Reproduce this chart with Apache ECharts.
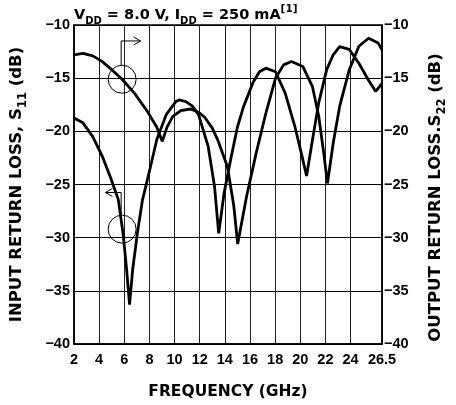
<!DOCTYPE html>
<html>
<head>
<meta charset="utf-8">
<script src="https://cdn.jsdelivr.net/npm/echarts@6/dist/echarts.min.js"></script>
<style>html,body{margin:0;padding:0;background:#fff}#c{width:456px;height:405px}</style>
</head>
<body>
<div id="c"></div>
<script>
// Frequency (GHz) / return loss (dB)
const s11Freq = [2, 2.71, 3.48, 4.25, 4.89, 5.52, 5.9, 6.16, 6.42, 6.67, 7.05, 7.44, 8.07, 8.58, 9.35, 10.1, 10.37, 10.9, 11.4, 11.9, 12.67, 13.18, 13.51, 13.94, 14.46, 15.0, 15.48, 16.24, 16.75, 17.26, 18.03, 18.8, 19.56, 20.07, 20.5, 20.97, 21.47, 22.1, 22.62, 23.13, 23.9, 24.66, 25.43, 26.0, 26.5];
const s11Loss = [-18.75, -19.2, -20.47, -22.35, -24.3, -26.4, -29.6, -32.66, -36.3, -32.97, -29.5, -26.5, -23.4, -20.8, -18.4, -17.2, -17.05, -17.2, -17.6, -18.4, -21.4, -25.2, -29.6, -25.8, -22.66, -19.6, -17.7, -15.4, -14.4, -14.06, -14.4, -16.4, -19.5, -22.0, -24.2, -20.8, -17.3, -14.2, -12.8, -12.03, -12.3, -13.6, -15.2, -16.25, -15.5];
const s22Freq = [2, 2.71, 3.5, 4.25, 5.0, 5.83, 6.8, 7.82, 8.58, 9.02, 9.4, 9.86, 10.5, 11.27, 11.9, 12.41, 13.0, 13.43, 14.2, 14.71, 15.02, 15.73, 16.5, 17.26, 18.03, 18.67, 19.3, 20.2, 20.97, 21.47, 21.86, 22.16, 22.62, 23.13, 23.9, 24.66, 25.43, 26.2, 26.5];
const s22Loss = [-12.8, -12.66, -12.9, -13.44, -14.2, -15.1, -16.4, -18.1, -19.6, -20.94, -19.6, -18.6, -18.05, -17.9, -18.2, -18.7, -19.7, -20.8, -23.3, -27.0, -30.6, -26.1, -22.0, -18.3, -15.0, -13.75, -13.44, -13.9, -15.8, -18.6, -22.0, -24.9, -21.1, -17.66, -14.2, -12.0, -11.25, -11.7, -12.34];
const xTicks = [2, 4, 6, 8, 10, 12, 14, 16, 18, 20, 22, 24, 26.5];
const yTicks = [-40, -35, -30, -25, -20, -15, -10];
// annotation anchors (data units): circle centre, arrow corner, arrow tip x
const noteS22 = {cx: 5.83, cy: -15.1, corner: -11.5, tipX: 7.3};
const noteS11 = {cx: 5.83, cy: -29.2, corner: -25.75, tipX: 4.5};

const pair = (xs, ys) => xs.map((x, i) => [x, ys[i]]);
const minus = v => String(v).replace('-', '\u2212');
const tickFont = {fontFamily: 'Liberation Sans, Arial, sans-serif', fontWeight: 'bold', fontSize: 14.5, color: '#000'};
const nameFont = {fontFamily: 'DejaVu Sans, sans-serif', fontWeight: 'bold', fontSize: 15.5, color: '#000'};
const yNameRich = {
  s: {fontFamily: 'DejaVu Sans, sans-serif', fontWeight: 'bold', fontSize: 11.5, color: '#000', verticalAlign: 'bottom', lineHeight: 12},
  m: {fontFamily: 'DejaVu Sans, sans-serif', fontWeight: 'bold', fontSize: 16.5, color: '#000', lineHeight: 24}
};

const chart = echarts.init(document.getElementById('c'), null, {renderer: 'canvas'});
const yAxisBase = {
  type: 'value', min: yTicks[0], max: yTicks[yTicks.length - 1], interval: 5,
  axisTick: {show: false},
  axisLine: {show: true, lineStyle: {color: '#000', width: 1.5}},
  nameLocation: 'middle', nameRotate: 90
};
chart.setOption({
  animation: false,
  backgroundColor: '#fff',
  title: {
    text: '{m|V}{s|DD}{m| = 8.0 V, I}{s|DD}{m| = 250 mA}{p|[1]}',
    left: 69, top: -1,
    textStyle: {
      rich: {
        m: {fontFamily: 'DejaVu Sans, sans-serif', fontWeight: 'bold', fontSize: 14.5, color: '#000', lineHeight: 22},
        s: {fontFamily: 'DejaVu Sans, sans-serif', fontWeight: 'bold', fontSize: 10, color: '#000', lineHeight: 10, verticalAlign: 'bottom'},
        p: {fontFamily: 'DejaVu Sans, sans-serif', fontWeight: 'bold', fontSize: 10.5, color: '#000', lineHeight: 10, verticalAlign: 'top'}
      }
    }
  },
  grid: {left: 74, right: 62, top: 25, bottom: 60, show: true, borderColor: '#000', borderWidth: 1.5},
  xAxis: {
    type: 'value', min: xTicks[0], max: xTicks[xTicks.length - 1],
    name: 'FREQUENCY (GHz)', nameLocation: 'middle', nameGap: 40,
    nameTextStyle: nameFont,
    axisTick: {show: false, customValues: xTicks},
    axisLine: {show: true, lineStyle: {color: '#000', width: 1.5}},
    axisLabel: Object.assign({margin: 8, customValues: xTicks, formatter: v => String(v)}, tickFont),
    splitLine: {show: true, customValues: xTicks, lineStyle: {color: '#222', width: 1}}
  },
  yAxis: [
    Object.assign({}, yAxisBase, {
      position: 'left', name: '{m|INPUT RETURN LOSS, S}{s|11}{m| (dB)}', nameGap: 45,
      nameTextStyle: {rich: yNameRich},
      axisLabel: Object.assign({margin: 4, formatter: minus}, tickFont),
      splitLine: {show: true, lineStyle: {color: '#000', width: 1}}
    }),
    Object.assign({}, yAxisBase, {
      position: 'right', name: '{m|OUTPUT RETURN LOSS.S}{s|22}{m| (dB)}', nameGap: 42,
      nameTextStyle: {rich: yNameRich, padding: [0, 26, 0, 0]},
      axisLabel: Object.assign({margin: 2, formatter: minus}, tickFont),
      splitLine: {show: false}
    })
  ],
  series: [
    {name: 'S11', type: 'line', yAxisIndex: 0, data: pair(s11Freq, s11Loss), showSymbol: false, symbol: 'none',
     lineStyle: {color: '#000', width: 2.8}, z: 5},
    {name: 'S22', type: 'line', yAxisIndex: 1, data: pair(s22Freq, s22Loss), showSymbol: false, symbol: 'none',
     lineStyle: {color: '#000', width: 2.8}, z: 5}
  ]
});

function note(n, dir) {
  const c = chart.convertToPixel({gridIndex: 0}, [n.cx, n.cy]);
  const k = chart.convertToPixel({gridIndex: 0}, [n.cx, n.corner]);
  const t = chart.convertToPixel({gridIndex: 0}, [n.tipX, n.corner]);
  const r = 14;
  const cx = c[0] - 1;
  const st = {stroke: '#000', lineWidth: 1, fill: null};
  return [
    {type: 'circle', shape: {cx: c[0], cy: c[1], r: r}, style: {stroke: '#000', lineWidth: 1, fill: 'none'}, z: 10},
    {type: 'polyline', shape: {points: [[cx, c[1] - r], [cx, k[1]], [t[0], k[1]]]}, style: st, z: 10},
    {type: 'polyline', shape: {points: [[t[0] - dir * 7, k[1] - 4], [t[0], k[1]], [t[0] - dir * 7, k[1] + 4]]}, style: st, z: 10}
  ];
}
chart.setOption({graphic: {elements: note(noteS22, 1).concat(note(noteS11, -1))}});
</script>
</body>
</html>
